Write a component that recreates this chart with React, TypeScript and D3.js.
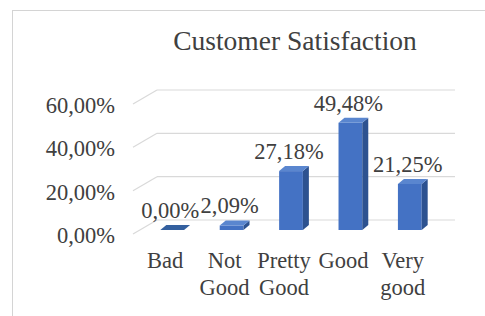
import React from 'react';
import * as d3 from 'd3';

const categories = ['Bad', 'Not Good', 'Pretty Good', 'Good', 'Very good'];
const categoryLines = [['Bad'], ['Not', 'Good'], ['Pretty', 'Good'], ['Good'], ['Very', 'good']];
const values = [0.0, 0.0209, 0.2718, 0.4948, 0.2125];
const valueLabels = ['0,00%', '2,09%', '27,18%', '49,48%', '21,25%'];
const yTicks = [0, 0.2, 0.4, 0.6];
const yTickLabels = ['0,00%', '20,00%', '40,00%', '60,00%'];

const W = 485;
const H = 316;
const font = "'Liberation Serif', 'DejaVu Serif', serif";
const textColor = '#404040';

// depth of the 3d bars and of the floor
const dx = 6;
const dy = -5;
const wallDx = 24;
const wallDy = -14;

const App = () => {
  const x = d3.scaleBand<string>()
    .domain(categories)
    .range([142.5, 439.5])
    .paddingInner(0.6)
    .paddingOuter(0.3);

  const y = d3.scaleLinear().domain([0, 0.6]).range([230, 100]);
  const yBack = (v: number) => y(v) - 10;
  const yFront = (v: number) => yBack(v) - wallDy;

  const base = y(0);
  const bw = x.bandwidth();
  const txt = { fontFamily: font, fontSize: 22.5, fill: textColor } as React.CSSProperties;

  return (
    <svg width={W} height={H} style={{ position: 'absolute', left: 0, top: 0, background: '#fff' }}>
      <rect x={12.5} y={10.5} width={490} height={310} fill="#fff" stroke="#d4d4d4" strokeWidth={1} />

      <text x={295} y={50} textAnchor="middle" style={{ ...txt, fontSize: 27.5 }}>
        Customer Satisfaction
      </text>

      {/* gridlines on the back wall, with the floor diagonal */}
      {yTicks.map((t) => (
        <g key={t} stroke="#d9d9d9" strokeWidth={1.2} fill="none">
          <line x1={157} x2={455} y1={yBack(t)} y2={yBack(t)} />
          <line x1={157 - wallDx} x2={157} y1={yFront(t)} y2={yBack(t)} />
        </g>
      ))}

      {yTicks.map((t, i) => (
        <text key={t} x={115} y={yFront(t) + 1} dy="0.35em" textAnchor="end" style={txt}>
          {yTickLabels[i]}
        </text>
      ))}

      {categories.map((c, i) => {
        const x0 = x(c) as number;
        const x1 = x0 + bw;
        const top = y(values[i]);
        const side = `${x1},${top} ${x1 + dx},${top + dy} ${x1 + dx},${base + dy} ${x1},${base}`;
        const cap = `${x0},${top} ${x0 + dx},${top + dy} ${x1 + dx},${top + dy} ${x1},${top}`;
        return (
          <g key={c}>
            <rect x={x0} y={top} width={bw} height={base - top} fill="#4472C4" />
            <polygon points={side} fill="#2D5290" />
            <polygon points={cap} fill={values[i] === 0 ? '#34609f' : '#5A86CF'} />
          </g>
        );
      })}

      {categories.map((c, i) => (
        <text key={c} x={(x(c) as number) + bw / 2 - 2} y={y(values[i]) - 20} dy="0.35em"
          textAnchor="middle" style={txt}>
          {valueLabels[i]}
        </text>
      ))}

      {categories.map((c, i) => (
        <text key={c} x={(x(c) as number) + bw / 2 - 7} y={260} textAnchor="middle" style={txt}>
          {categoryLines[i].map((line, j) => (
            <tspan key={j} x={(x(c) as number) + bw / 2 - 7} dy={j === 0 ? '0.35em' : 27}>{line}</tspan>
          ))}
        </text>
      ))}
    </svg>
  );
};

export default App;
